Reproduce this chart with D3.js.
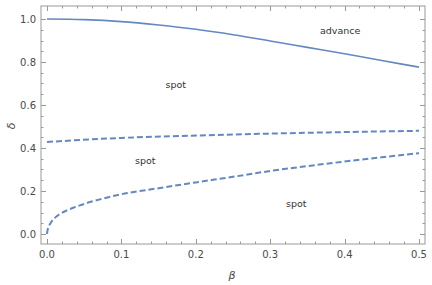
<!DOCTYPE html>
<html><head><meta charset="utf-8">
<script src="https://cdn.jsdelivr.net/npm/d3@7"></script>
<style>body{margin:0;background:#fff}svg{display:block}</style>
</head><body>
<svg id="c" width="432" height="285"></svg>
<script>
const betaAdv = [0, 0.05, 0.1, 0.15, 0.2, 0.25, 0.3, 0.35, 0.4, 0.45, 0.5];
const solid   = [1.0, 0.997, 0.988, 0.972, 0.952, 0.927, 0.898, 0.868, 0.838, 0.807, 0.776];
const betaUp  = [0, 0.1, 0.2, 0.3, 0.4, 0.5];
const dashUp  = [0.428, 0.447, 0.458, 0.467, 0.474, 0.480];
const betaLow = [0, 0.0005, 0.0015, 0.003, 0.006, 0.01, 0.016, 0.025, 0.036, 0.05, 0.07, 0.1, 0.15, 0.2, 0.25, 0.3, 0.35, 0.4, 0.45, 0.5];
const dashLow = [0, 0.014, 0.026, 0.04, 0.057, 0.073, 0.09, 0.107, 0.123, 0.14, 0.16, 0.185, 0.213, 0.24, 0.266, 0.293, 0.316, 0.337, 0.357, 0.376];
const xTicks = [0, 0.1, 0.2, 0.3, 0.4, 0.5];
const yTicks = [0, 0.2, 0.4, 0.6, 0.8, 1.0];
const regionLabels = [
  {t:"advance", b:0.394, d:0.945},
  {t:"spot", b:0.173, d:0.695},
  {t:"spot", b:0.132, d:0.34},
  {t:"spot", b:0.335, d:0.14}
];

const svg = d3.select("#c");
const L = 41, R = 425, T = 6, B = 244;
const x = d3.scaleLinear().domain([0, 0.5]).range([47, 419]);
const y = d3.scaleLinear().domain([0, 1]).range([234, 19]);
const frameCol = "#999";
const lineCol = "#6488c2";

svg.append("rect").attr("x", L).attr("y", T).attr("width", R - L).attr("height", B - T)
  .attr("fill", "none").attr("stroke", frameCol).attr("stroke-width", 1);

const xMinor = d3.range(0, 0.5001, 0.02);
const yMinor = d3.range(0, 1.0001, 0.05);
const isMajor = (v, step) => Math.abs(v / step - Math.round(v / step)) < 1e-6;

const g = svg.append("g").attr("stroke", frameCol).attr("stroke-width", 1);
xMinor.forEach(v => {
  const len = isMajor(v, 0.1) ? 5 : 2.5;
  const px = Math.round(x(v)) + 0.5;
  g.append("line").attr("x1", px).attr("x2", px).attr("y1", B).attr("y2", B - len);
  g.append("line").attr("x1", px).attr("x2", px).attr("y1", T).attr("y2", T + len);
});
yMinor.forEach(v => {
  const len = isMajor(v, 0.2) ? 5 : 2.5;
  const py = Math.round(y(v)) + 0.5;
  g.append("line").attr("x1", L).attr("x2", L + len).attr("y1", py).attr("y2", py);
  g.append("line").attr("x1", R).attr("x2", R - len).attr("y1", py).attr("y2", py);
});

const font = "'DejaVu Sans', sans-serif";
svg.append("g").selectAll("text").data(xTicks).join("text")
  .attr("x", d => x(d)).attr("y", B + 14).attr("text-anchor", "middle")
  .attr("font-family", font).attr("font-size", 10).attr("fill", "#4a4a4a")
  .text(d => d3.format(".1f")(d));
svg.append("g").selectAll("text").data(yTicks).join("text")
  .attr("x", L - 5).attr("y", d => y(d) + 3.5).attr("text-anchor", "end")
  .attr("font-family", font).attr("font-size", 10).attr("fill", "#4a4a4a")
  .text(d => d3.format(".1f")(d));

svg.append("text").attr("x", 232).attr("y", 279).attr("text-anchor", "middle")
  .attr("font-family", font).attr("font-style", "italic").attr("font-size", 11).attr("fill", "#4a4a4a").text("β");
svg.append("text").attr("transform", "translate(15,126) rotate(-90)").attr("text-anchor", "middle")
  .attr("font-family", font).attr("font-style", "italic").attr("font-size", 11).attr("fill", "#4a4a4a").text("δ");

const line = d3.line().x(d => x(d[0])).y(d => y(d[1])).curve(d3.curveMonotoneX);
svg.append("path").attr("d", line(d3.zip(betaAdv, solid)))
  .attr("fill", "none").attr("stroke", lineCol).attr("stroke-width", 1.6);
svg.append("path").attr("d", line(d3.zip(betaUp, dashUp)))
  .attr("fill", "none").attr("stroke", lineCol).attr("stroke-width", 2).attr("stroke-dasharray", "6,3");
svg.append("path").attr("d", line(d3.zip(betaLow, dashLow)))
  .attr("fill", "none").attr("stroke", lineCol).attr("stroke-width", 2).attr("stroke-dasharray", "6,3");

svg.append("g").selectAll("text").data(regionLabels).join("text")
  .attr("x", d => x(d.b)).attr("y", d => y(d.d) + 3.5).attr("text-anchor", "middle")
  .attr("font-family", font).attr("font-size", 9.5).attr("fill", "#333")
  .text(d => d.t);
</script>
</body></html>
